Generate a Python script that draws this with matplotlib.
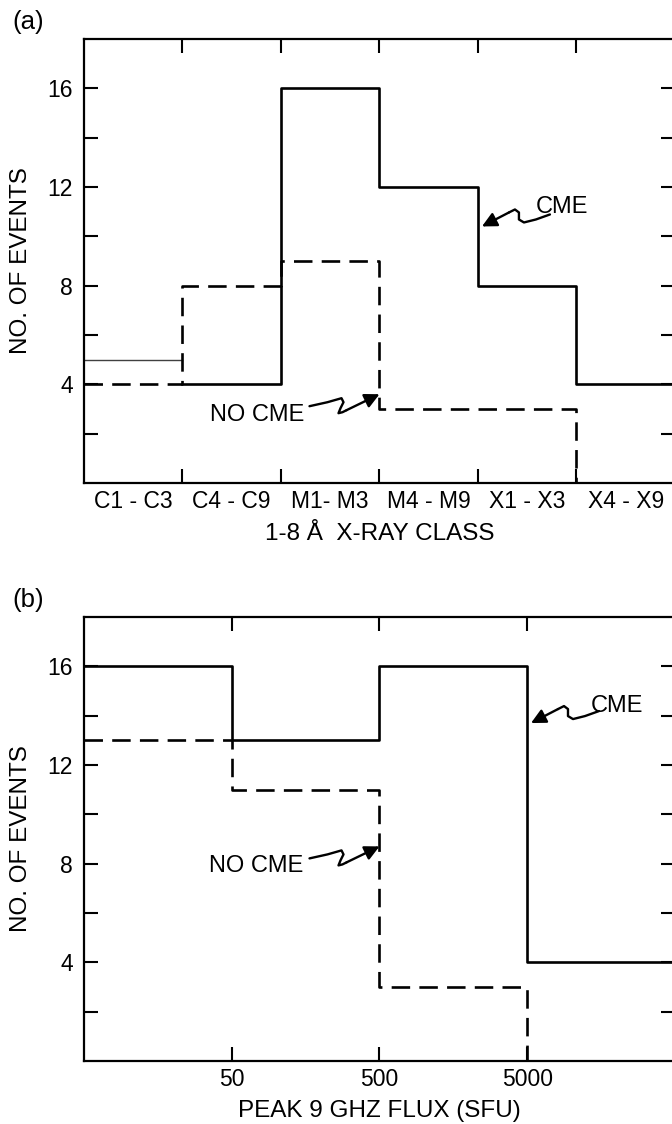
import matplotlib
matplotlib.use("Agg")
import matplotlib.pyplot as plt
import numpy as np

plt.rcParams['font.family'] = ['Liberation Sans', 'DejaVu Sans']

# ---------------- data ----------------
xray_classes = ['C1 - C3', 'C4 - C9', 'M1- M3', 'M4 - M9', 'X1 - X3', 'X4 - X9']
xray_cme = [5, 4, 16, 12, 8, 4]
xray_nocme = [4, 8, 9, 3, 3, 0]

flux_edges = [5, 50, 500, 5000, 50000]
flux_cme = [16, 13, 16, 4]
flux_nocme = [13, 11, 3, 0]
flux_ticks = [50, 500, 5000]
flux_ticklabels = ['50', '500', '5000']

y_major = [4, 8, 12, 16]
y_minor = [2, 6, 10, 14]

# ---------------- figure ----------------
W, H = 672, 1124
fig = plt.figure(figsize=(W / 100, H / 100), dpi=100)


def axpos(top, bottom, left=84, right=675):
    return [left / W, 1 - bottom / H, (right - left) / W, (bottom - top) / H]


ax1 = fig.add_axes(axpos(39, 483))
ax2 = fig.add_axes(axpos(617, 1061))

FS_TICK = 16.5
FS_LAB = 17.5
FS_ANN = 17
DASH = (0, (7, 3.5))
LW = 1.9

for ax in (ax1, ax2):
    for s in ax.spines.values():
        s.set_linewidth(1.6)
    ax.set_ylim(0, 18)
    ax.set_yticks(y_major)
    ax.set_yticks(y_minor, minor=True)
    ax.tick_params(axis='both', which='both', direction='in', top=True,
                   right=True, length=10, width=1.5, labelsize=FS_TICK)
    ax.tick_params(axis='y', which='major', pad=8)
    ax.set_ylabel('NO. OF EVENTS', fontsize=FS_LAB)
    ax.yaxis.set_label_coords(-0.088, 0.5)

# ---------------- panel (a) ----------------
edges = np.arange(len(xray_classes) + 1)
centers = edges[:-1] + 0.5
ax1.set_xlim(edges[0], edges[-1])
# thin first segment as in the original
ax1.plot(edges[:2], [xray_cme[0]] * 2, color='0.25', lw=1.0)
ax1.step(edges[1:], xray_cme[1:] + [xray_cme[-1]], where='post', color='k', lw=LW)
ax1.step(edges[:-1], xray_nocme, where='post', color='k', lw=LW, ls=DASH)

ax1.set_xticks(edges[1:-1])
ax1.set_xticklabels([])
ax1.set_xticks(centers, minor=True)
ax1.set_xticklabels(xray_classes, minor=True)
ax1.tick_params(axis='x', which='minor', length=0, pad=5, labelsize=FS_TICK)
ax1.set_xlabel('1-8 Å  X-RAY CLASS', fontsize=FS_LAB)
ax1.xaxis.set_label_coords(0.5, -0.09)

# ---------------- panel (b) ----------------
ax2.set_xscale('log')
ax2.set_xlim(flux_edges[0], flux_edges[-1])
ax2.step(flux_edges, flux_cme + [flux_cme[-1]], where='post', color='k', lw=LW)
ax2.step(flux_edges[:-1], flux_nocme, where='post', color='k', lw=LW, ls=DASH)
ax2.set_xticks(flux_ticks)
ax2.set_xticklabels(flux_ticklabels)
ax2.xaxis.set_minor_locator(matplotlib.ticker.NullLocator())
ax2.tick_params(axis='x', which='major', pad=5)
ax2.set_xlabel('PEAK 9 GHZ FLUX (SFU)', fontsize=FS_LAB)
ax2.xaxis.set_label_coords(0.5, -0.088)

# ---------------- annotations ----------------
CME_SHAPE = [(68, -12), (54, -7), (42, -4), (37, -7), (37, -14), (33, -17), (27, -14)]
NOCME_SHAPE = [(-70, 12), (-52, 8), (-38, 4), (-36, 8), (-39, 14), (-41, 19), (-37, 18), (-33, 16)]


def squiggle(ax, tip, shape):
    fig.canvas.draw()
    tip_d = ax.transData.transform(tip)
    pts = np.array([(tip_d[0] + dx, tip_d[1] - dy) for dx, dy in shape])
    data = ax.transData.inverted().transform(pts)
    ax.plot(data[:, 0], data[:, 1], color='k', lw=1.7, solid_capstyle='round',
            solid_joinstyle='round')
    ax.annotate('', xy=tip, xytext=tuple(data[-1]),
                arrowprops=dict(arrowstyle='-|>', color='k', lw=1.7,
                                mutation_scale=22, shrinkA=0, shrinkB=0))


ax1.text(4.59, 11.2, 'CME', fontsize=FS_ANN, ha='left', va='center')
squiggle(ax1, (4.04, 10.4), CME_SHAPE)
ax1.text(2.24, 2.75, 'NO CME', fontsize=FS_ANN, ha='right', va='center')
squiggle(ax1, (3.0, 3.6), NOCME_SHAPE)

ax2.text(13400, 14.4, 'CME', fontsize=FS_ANN, ha='left', va='center')
squiggle(ax2, (5300, 13.7), CME_SHAPE)
ax2.text(152, 7.9, 'NO CME', fontsize=FS_ANN, ha='right', va='center')
squiggle(ax2, (500, 8.7), NOCME_SHAPE)

fig.text(12 / W, 1 - 22 / H, '(a)', fontsize=18.5, ha='left', va='center')
fig.text(12 / W, 1 - 600 / H, '(b)', fontsize=18.5, ha='left', va='center')

fig.savefig('out.png', dpi=100)
